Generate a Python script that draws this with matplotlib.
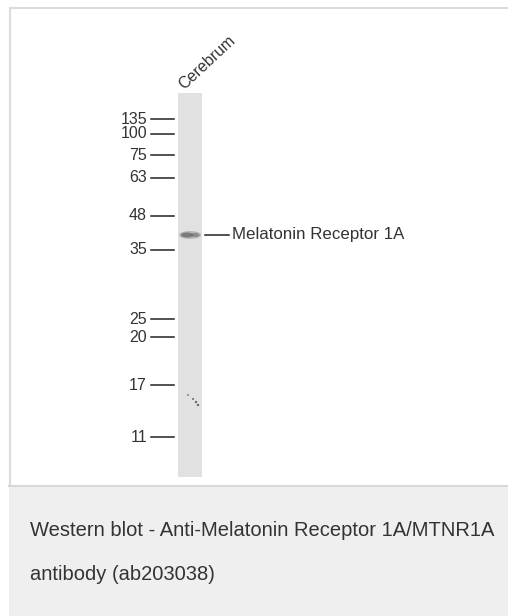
import matplotlib.pyplot as plt
import matplotlib.patches as patches

plt.rcParams['font.family'] = ['Liberation Sans', 'DejaVu Sans']

# marker ladder (kDa) and where each one sits on the blot (pixel rows)
marker_kda = ['135', '100', '75', '63', '48', '35', '25', '20', '17', '11']
marker_row = [119, 134, 155, 178, 216, 250, 319, 337, 385, 437]

lane_name = 'Cerebrum'
band_label = 'Melatonin Receptor 1A'
band_row = 235
caption = ['Western blot - Anti-Melatonin Receptor 1A/MTNR1A',
           'antibody (ab203038)']

W, H = 508, 616
fig = plt.figure(figsize=(W / 100, H / 100), dpi=100)
ax = fig.add_axes([0, 0, 1, 1])
ax.set_xlim(0, W)
ax.set_ylim(H, 0)
ax.axis('off')

# white panel with light grey frame
ax.add_patch(patches.Rectangle((9.5, 7.5), W, 478, facecolor='white',
                               edgecolor='#dcdcdc', lw=1.5))
# caption box
ax.add_patch(patches.Rectangle((9, 487), W, H - 487, facecolor='#eeefee',
                               edgecolor='none'))
ax.plot([9, W], [486, 486], color='#d8d8d8', lw=1.5)

# the lane
ax.add_patch(patches.Rectangle((177.5, 93), 24, 384, facecolor='#e1e1e1',
                               edgecolor='none'))

# band
for dx, w, h, a in [(0, 22, 8, 0.3), (-3, 12, 5, 0.6), (5, 9, 4, 0.45)]:
    ax.add_patch(patches.Ellipse((190 + dx, band_row), w, h,
                                 facecolor='#555555', edgecolor='none', alpha=a))
# little specks lower down the lane
ax.scatter([188, 193, 196, 198], [395, 399, 402, 405], s=[1.5, 2, 3, 3],
           color='#666666', lw=0)

# marker ticks and labels
for kda, row in zip(marker_kda, marker_row):
    ax.plot([151, 174], [row, row], color='#222222', lw=1.1)
    ax.text(147, row, kda, ha='right', va='center', fontsize=11.5,
            color='#333333')

# band annotation
ax.plot([205, 229], [band_row, band_row], color='#222222', lw=1.1)
ax.text(232, band_row, band_label, ha='left', va='center', fontsize=12.2,
        color='#333333')

# lane label
ax.text(186, 92, lane_name, rotation=43, ha='left', va='bottom',
        rotation_mode='anchor', fontsize=11.5, color='#333333')

# caption text
ax.text(30, 531, caption[0], ha='left', va='center', fontsize=14.5,
        color='#333333')
ax.text(30, 574, caption[1], ha='left', va='center', fontsize=14.5,
        color='#333333')

fig.savefig('out.png', dpi=100)
